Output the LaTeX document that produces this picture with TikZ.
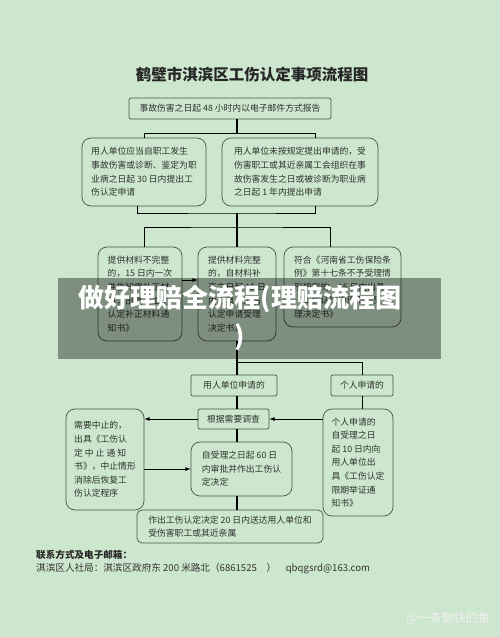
\documentclass[tikz,border=0pt]{standalone}
\usepackage{fontspec}
\setmainfont{Noto Sans CJK SC}
\usetikzlibrary{arrows}
\definecolor{bggreen}{RGB}{205,231,206}
\definecolor{boxline}{RGB}{72,84,74}
\definecolor{inktext}{RGB}{45,50,46}
\newcommand{\sqNode}{\node[draw=boxline,line width=0.7pt,rounded corners=2pt,text=inktext,align=left,inner sep=0pt,font=\fontsize{8.8}{13.5}\selectfont]}
\newcommand{\rdNode}{\node[draw=boxline,line width=0.7pt,rounded corners=9pt,text=inktext,align=left,inner sep=0pt,font=\fontsize{8.8}{13.6}\selectfont]}
\tikzset{link/.style={draw=black,line width=0.8pt},
         trunk/.style={draw=black,line width=2.2pt}}

\begin{document}
\begin{tikzpicture}[x=1pt,y=-1pt]

    \fill[bggreen] (0,0) rectangle (500,637);
    \useasboundingbox (0,0) rectangle (500,637);
    \coordinate (spine) at (237,0);

    \node (title) at (252,75) {\fontsize{15.5}{18}\selectfont\bfseries\color{black!85} 鹤壁市淇滨区工伤认定事项流程图};

    % top: report, then the two ways to apply
    \sqNode (report) [minimum width=202,minimum height=21] at (230,108.5) {事故伤害之日起 48 小时内以电子邮件方式报告};

    \rdNode (unitreq) [minimum width=124,minimum height=68] at (144,172) {用人单位应当自职工发生\\事故伤害或诊断、鉴定为职\\业病之日起 30 日内提出工\\伤认定申请};
    \rdNode (selfreq) [minimum width=156,minimum height=68] at (300,172) {用人单位未按规定提出申请的，受\\伤害职工或其近亲属工会组织在事\\故伤害发生之日或被诊断为职业病\\之日起 1 年内提出申请};

    % materials
    \rdNode (incomplete) [minimum width=84,minimum height=94] at (140,294) {提供材料不完整\\的，15 日内一次\\性告知需补正材\\料，出具《工伤\\认定补正材料通\\知书》};
    \rdNode (complete) [minimum width=78,minimum height=94] at (237,294) {提供材料完整\\的，自材料补\\齐之日起 15 日\\内出具《工伤\\认定申请受理\\决定书》};
    \rdNode (reject) [minimum width=117,minimum height=80] at (342.5,287) {符合《河南省工伤保险条\\例》第十七条不予受理情\\形规定的，15 日内出具\\《工伤认定申请不予受\\理决定书》};

    % lower part
    \sqNode (appunit) [minimum width=86,minimum height=21] at (234,385.5) {用人单位申请的};
    \sqNode (person) [minimum width=62,minimum height=21] at (362,385.5) {个人申请的};
    \sqNode (investigate) [minimum width=71,minimum height=20] at (233.5,419) {根据需要调查};
    \rdNode (suspend) [minimum width=78,minimum height=101] at (105,459.5) {需要中止的，\\出具《工伤认\\定 中 止 通 知\\书》，中止情形\\消除后恢复工\\伤认定程序};
    \rdNode (decide60) [minimum width=101,minimum height=54] at (241.5,469) {自受理之日起 60 日\\内审批并作出工伤认\\定决定};
    \rdNode (notice) [minimum width=70,minimum height=107] at (358,462.5) {个人申请的\\自受理之日\\起 10 日内向\\用人单位出\\具《工伤认定\\限期举证通\\知书》};
    \sqNode (deliver) [minimum width=186,minimum height=33,rounded corners=5pt] at (230,526.5) {作出工伤认定决定 20 日内送达用人单位和\\受伤害职工或其近亲属};

    % connectors
    \draw[trunk] (report.south -| spine) -- ++(0,14) coordinate (fork1);
    \draw[link] (unitreq.north) |- (fork1) -| ([xshift=15]selfreq.north);
    \coordinate (join1) at (237,213);
    \draw[link] ([xshift=-7]unitreq.south) |- (join1) -| ([xshift=15]selfreq.south);
    \draw[trunk] (join1) -- (complete.north);
    \coordinate (fork2) at (237,227);
    \draw[link] ([xshift=4]incomplete.north) |- (fork2) -| ([xshift=-12.5]reject.north);
    \draw[link,-latex] ([yshift=14]incomplete.east) -- ([yshift=14]complete.west);

    \draw[trunk] (complete.south) -- (complete.south |- appunit.north);
    \coordinate (fork3) at (237,362);
    \draw[link] (fork3) -| (person.north);
    \draw[trunk] (appunit.south -| spine) -- (investigate.north -| spine);
    \draw[trunk] (investigate.south -| spine) -- (decide60.north -| spine);
    \draw[trunk] (decide60.south -| spine) -- (deliver.north -| spine);
    \draw[link] (person.south) -- (notice.north -| person.south);
    \draw[link,-latex] (notice.west |- investigate.east) -- (investigate.east);
    \draw[link,-latex] (investigate.west) -- (investigate.west -| suspend.east);
    \draw[link,-latex] (suspend.east |- decide60.west) -- (decide60.west);

    % contact
    \node[anchor=west,inner sep=0pt,font=\fontsize{9.6}{12}\selectfont\bfseries,text=black!85] (contact) at (36,555) {联系方式及电子邮箱：};
    \node[anchor=west,inner sep=0pt,font=\fontsize{9.6}{12}\selectfont,text=black!80] (address) at (36,568.5) {淇滨区人社局：淇滨区政府东 200 米路北（6861525\quad ）\quad qbqgsrd@163.com};

    % overlay band
    \fill[black,opacity=0.38] (58,278) rectangle (441,359);
    \node[text=white,align=center,font=\fontsize{26}{38}\selectfont\bfseries] (banner) at (240,318) {做好理赔全流程(理赔流程图\\)};

    \node[anchor=east,inner sep=0pt,text=white!88!gray,font=\fontsize{12}{14}\selectfont] (mark) at (490,618) {@一条勤快的鱼};

\end{tikzpicture}
\end{document}
